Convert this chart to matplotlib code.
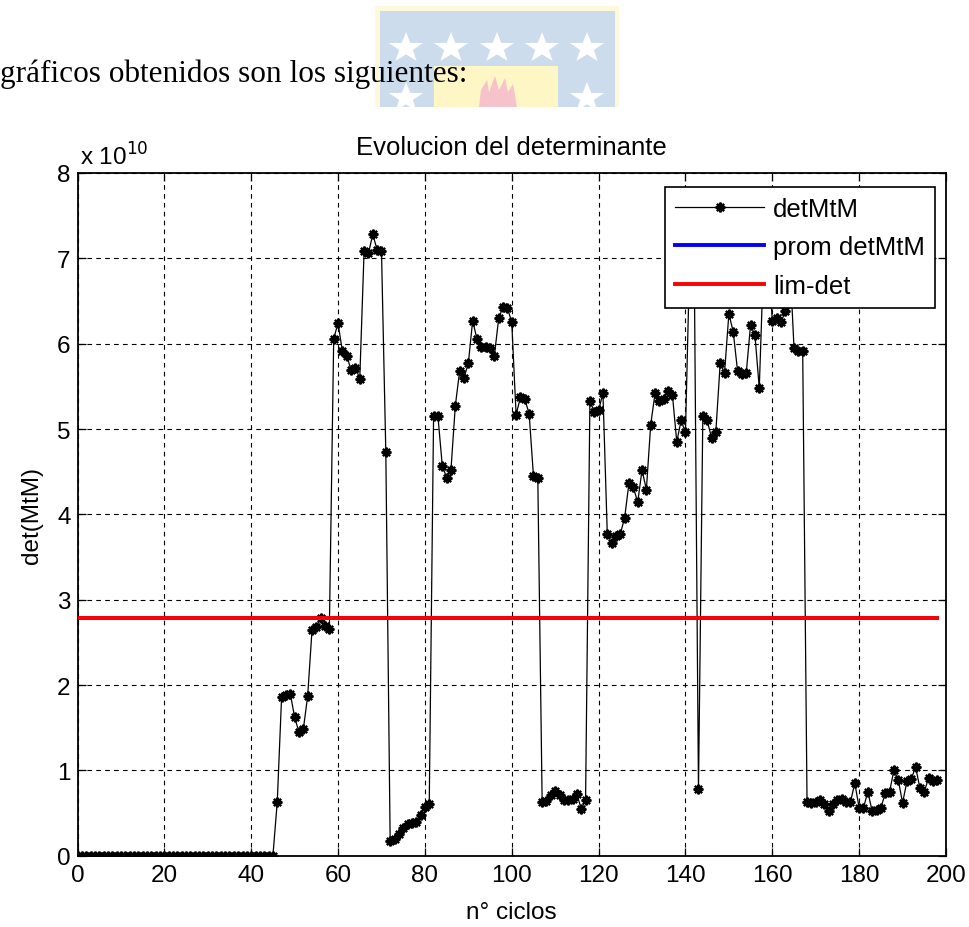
import matplotlib
matplotlib.use("Agg")
import matplotlib.pyplot as plt
from matplotlib.patches import Rectangle, Polygon
import numpy as np

# ---------------------------------------------------------------- data
# determinant of M'M per cycle, in units of 1e10
ciclos = list(range(0, 199))
det_mtm = [
    0.0, 0.0, 0.0, 0.0, 0.0, 0.0, 0.0, 0.0, 0.0, 0.0,
    0.0, 0.0, 0.0, 0.0, 0.0, 0.0, 0.0, 0.0, 0.0, 0.0,
    0.0, 0.0, 0.0, 0.0, 0.0, 0.0, 0.0, 0.0, 0.0, 0.0,
    0.0, 0.0, 0.0, 0.0, 0.0, 0.0, 0.0, 0.0, 0.0, 0.0,
    0.0, 0.0, 0.0, 0.0, 0.0, 0.0, 0.63, 1.86, 1.88, 1.90,
    1.62, 1.45, 1.48, 1.87, 2.64, 2.68, 2.78, 2.69, 2.66, 6.06,
    6.24, 5.91, 5.86, 5.69, 5.72, 5.59, 7.09, 7.06, 7.28, 7.10,
    7.09, 4.73, 0.17, 0.19, 0.25, 0.32, 0.37, 0.38, 0.40, 0.48,
    0.57, 0.61, 5.15, 5.15, 4.57, 4.43, 4.52, 5.27, 5.68, 5.60,
    5.77, 6.27, 6.05, 5.96, 5.96, 5.95, 5.86, 6.30, 6.43, 6.42,
    6.25, 5.17, 5.37, 5.35, 5.18, 4.45, 4.43, 0.63, 0.64, 0.71,
    0.76, 0.71, 0.65, 0.65, 0.66, 0.72, 0.55, 0.65, 5.33, 5.20,
    5.22, 5.42, 3.77, 3.66, 3.75, 3.77, 3.96, 4.37, 4.32, 4.14,
    4.52, 4.29, 5.05, 5.42, 5.33, 5.35, 5.45, 5.40, 4.85, 5.10,
    4.96, 7.05, 7.10, 0.78, 5.15, 5.10, 4.90, 4.97, 5.77, 5.66,
    6.35, 6.14, 5.68, 5.65, 5.66, 6.22, 6.10, 5.48, 7.00, 7.05,
    6.27, 6.30, 6.25, 6.38, 7.00, 5.95, 5.92, 5.91, 0.63, 0.62,
    0.63, 0.65, 0.60, 0.52, 0.60, 0.65, 0.67, 0.63, 0.63, 0.85,
    0.56, 0.56, 0.75, 0.52, 0.53, 0.56, 0.73, 0.75, 1.00, 0.89,
    0.62, 0.87, 0.90, 1.04, 0.79, 0.75, 0.91, 0.87, 0.89,
]
prom_det = 2.78      # mean determinant (x 1e10)
lim_det = 2.78       # threshold (x 1e10)

x_ticks = [0, 20, 40, 60, 80, 100, 120, 140, 160, 180, 200]
y_ticks = [0, 1, 2, 3, 4, 5, 6, 7, 8]
etiquetas = ["detMtM", "prom detMtM", "lim-det"]

# ---------------------------------------------------------------- figure
W, H, DPI = 969, 928, 100
plt.rcParams["lines.scale_dashes"] = False
plt.rcParams["font.family"] = ["Liberation Sans", "DejaVu Sans"]

fig = plt.figure(figsize=(W / DPI, H / DPI), dpi=DPI)
fig.patch.set_facecolor("white")


def fx(px):
    return px / W


def fy(py):
    return 1 - py / H


# ---- university emblem (faded watermark on the page)
lg = fig.add_axes([fx(375), fy(108), 244 / W, 101 / H])
lg.set_xlim(0, 244)
lg.set_ylim(101, 0)
lg.axis("off")
lg.add_patch(Rectangle((0, 0), 244, 101, fc="#fff9dc", ec="none"))
lg.add_patch(Rectangle((5, 5), 235, 96, fc="#cddcec", ec="none"))
lg.add_patch(Rectangle((59, 60), 124, 41, fc="#fff6c6", ec="none"))


def star(cx, cy, rx, ry):
    pts = []
    for k in range(10):
        ang = np.pi / 2 + k * np.pi / 5
        r = 1.0 if k % 2 == 0 else 0.40
        pts.append((cx + rx * r * np.cos(ang), cy - ry * r * np.sin(ang)))
    return Polygon(pts, closed=True, fc="white", ec="none")


for cx in (31, 76, 122, 167, 212):
    lg.add_patch(star(cx, 42, 18, 16))
for cx in (31, 212):
    lg.add_patch(star(cx, 92, 18, 16))
flame = [(104, 101), (106, 84), (112, 74), (114, 86), (120, 70), (124, 84),
         (130, 72), (133, 86), (138, 78), (142, 101)]
lg.add_patch(Polygon(flame, closed=True, fc="#f7c3cb", ec="none"))

fig.text(fx(0), fy(82), "gráficos obtenidos son los siguientes:",
         family=["Liberation Serif", "DejaVu Serif"], fontsize=22.5,
         color="black", ha="left", va="baseline")

# ---- main axes
ax = fig.add_axes([fx(77.5), fy(856.7), (946 - 77.5) / W, (856.7 - 174) / H])
ax.plot(ciclos, det_mtm, color="black", lw=0.9, marker=(8, 2, 0),
        ms=7, mew=1.6, label=etiquetas[0], zorder=3)
ax.plot([ciclos[0], ciclos[-1]], [prom_det, prom_det], color="blue", lw=2.8,
        label=etiquetas[1], zorder=4)
ax.plot([ciclos[0], ciclos[-1]], [lim_det, lim_det], color="red", lw=2.8,
        label=etiquetas[2], zorder=5)

ax.set_xlim(0, 200)
ax.set_ylim(0, 8)
ax.set_xticks(x_ticks)
ax.set_yticks(y_ticks)
ax.grid(True, color="black", lw=0.8, linestyle=(0, (3.4, 3.0)))
ax.set_axisbelow(True)
ax.tick_params(direction="in", length=6, width=0.9, top=True, right=True,
               labelsize=17.5, colors="black")
ax.tick_params(axis="x", pad=6)
ax.tick_params(axis="y", pad=5)
for sp in ax.spines.values():
    sp.set_linewidth(1.3)
    sp.set_color("black")

ax.set_title("Evolucion del determinante", fontsize=18.5, pad=14)
ax.set_xlabel("n° ciclos", fontsize=17.5, labelpad=11)
ax.set_ylabel("det(MtM)", fontsize=17.5, labelpad=10)
fig.text(fx(80), fy(166), r"x 10$^{10}$", fontsize=17.5, ha="left",
         va="baseline")

leg = ax.legend(loc="upper right", bbox_to_anchor=((935 - 77.5) / 868.5,
                                                   (856.7 - 187.7) / 682.7),
                borderaxespad=0, fancybox=False, framealpha=1, edgecolor="black",
                fontsize=18.5, handlelength=3.45, handletextpad=0.35,
                borderpad=0.4, labelspacing=0.56)
leg.get_frame().set_linewidth(1.2)
leg.set_zorder(10)

fig.savefig("out.png", dpi=DPI, facecolor="white")
